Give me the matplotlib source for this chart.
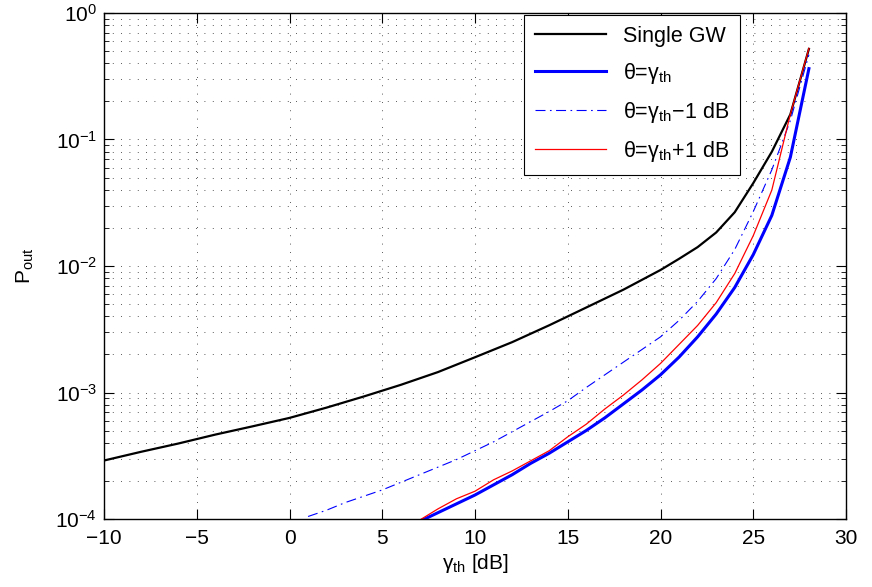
import matplotlib
matplotlib.use("Agg")
import matplotlib.pyplot as plt
import numpy as np

plt.rcParams['font.family'] = ['Liberation Sans', 'DejaVu Sans']
plt.rcParams['mathtext.fontset'] = 'custom'
plt.rcParams['mathtext.rm'] = 'Liberation Sans'
plt.rcParams['mathtext.it'] = 'Liberation Sans:italic'
plt.rcParams['font.size'] = 14

# single gateway
x_single = [-10, -8, -6, -4, -2, 0, 2, 4, 6, 8, 10, 12, 14, 16, 18, 20,
            21, 22, 23, 24, 25, 26, 27, 28]
p_single = [2.9e-4, 3.4e-4, 3.95e-4, 4.65e-4, 5.4e-4, 6.3e-4, 7.6e-4, 9.3e-4,
            1.15e-3, 1.45e-3, 1.9e-3, 2.5e-3, 3.4e-3, 4.7e-3, 6.5e-3, 9.3e-3,
            1.14e-2, 1.41e-2, 1.84e-2, 2.66e-2, 4.52e-2, 8.0e-2, 0.158, 0.52]

# theta = gamma_th
x_eq = list(range(7, 29))
logp_eq = [-4.02, -3.95, -3.88, -3.81, -3.73, -3.65, -3.56, -3.48, -3.39, -3.30,
           -3.20, -3.09, -2.98, -2.86, -2.72, -2.56, -2.38, -2.17, -1.91, -1.60,
           -1.14, -0.44]

# theta = gamma_th - 1 dB
x_minus = list(range(1, 29))
logp_minus = [-3.98, -3.93, -3.87, -3.82, -3.77, -3.71, -3.65, -3.59, -3.53, -3.46,
              -3.39, -3.31, -3.23, -3.15, -3.065, -2.96, -2.86, -2.76, -2.66, -2.56,
              -2.43, -2.28, -2.10, -1.87, -1.57, -1.24, -0.85, -0.33]

# theta = gamma_th + 1 dB
x_plus = list(range(7, 29))
logp_plus = [-4.01, -3.92, -3.84, -3.78, -3.69, -3.62, -3.54, -3.46, -3.35, -3.25,
             -3.13, -3.02, -2.90, -2.77, -2.62, -2.47, -2.29, -2.06, -1.76, -1.40,
             -0.80, -0.28]

fig = plt.figure(figsize=(8.72, 5.87), dpi=100)
ax = fig.add_axes([0.1193, 0.1158, 0.8509, 0.8621])

ax.semilogy(x_single, p_single, color='black', lw=1.6, label='Single GW')
ax.semilogy(x_eq, 10 ** np.array(logp_eq), color='#0000ff', lw=2.2,
            label=r'θ=γ$_\mathregular{th}$')
ax.semilogy(x_minus, 10 ** np.array(logp_minus), color='#0000ff', lw=0.8,
            linestyle=(0, (9, 4, 1.5, 4)), label=r'θ=γ$_\mathregular{th}$−1 dB')
ax.semilogy(x_plus, 10 ** np.array(logp_plus), color='#ff0000', lw=0.9,
            label=r'θ=γ$_\mathregular{th}$+1 dB')

ax.set_xlim(-10, 30)
ax.set_ylim(1e-4, 1)
ax.set_xticks(range(-10, 31, 5))
ax.set_xticklabels(['−10', '−5', '0', '5', '10', '15', '20', '25', '30'])

dots = (0, (1, 9))
ax.grid(True, which='major', axis='both', color='#222222', lw=0.6, linestyle=dots)
ax.grid(True, which='minor', axis='y', color='#222222', lw=0.6, linestyle=dots)
ax.tick_params(which='both', direction='in', top=True, right=True, labelsize=15)
ax.tick_params(which='major', length=7, width=0.8)
ax.tick_params(which='minor', length=3.5, width=0.6)
ax.tick_params(axis='x', pad=7)
ax.tick_params(axis='y', pad=5)
for s in ax.spines.values():
    s.set_linewidth(1.0)

ax.set_xlabel(r'γ$_\mathregular{th}$ [dB]', fontsize=15, labelpad=3)
ax.set_ylabel(r'P$_\mathregular{out}$', fontsize=15, labelpad=14)

leg = ax.legend(loc='upper right', bbox_to_anchor=(0.857, 0.996), fontsize=15.5,
                fancybox=False, edgecolor='black', framealpha=1,
                handlelength=3.3, borderpad=0.5, labelspacing=0.65,
                handletextpad=0.8, borderaxespad=0)
leg.get_frame().set_linewidth(0.8)

fig.savefig('out.png', dpi=100)
